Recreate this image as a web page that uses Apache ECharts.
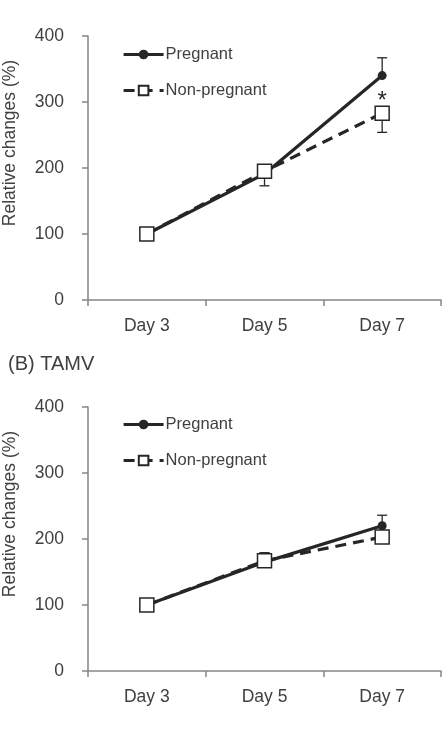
<!DOCTYPE html>
<html>
<head>
<meta charset="utf-8">
<script src="https://cdn.jsdelivr.net/npm/echarts@6/dist/echarts.min.js"></script>
<style>
  html, body { margin: 0; padding: 0; background: #fff; }
  #chart { width: 445px; height: 738px; }
</style>
</head>
<body>
<div id="chart"></div>
<script>
var days = ['Day 3', 'Day 5', 'Day 7'];
var seriesNames = ['Pregnant', 'Non-pregnant'];

// (A) values
var pregA = [100, 191, 340];
var nonPregA = [100, 195, 283];
var pregAUp = [0, 0, 27];        // upper error only
var nonPregADown = [0, 22, 29];  // lower error only

// (B) TAMV values
var pregB = [100, 165, 220];
var nonPregB = [100, 167, 203];
var pregBUp = [0, 14, 16];
var nonPregBUp = [0, 12, 0];

var font = 'Arial, "Liberation Sans", sans-serif';
var textColor = '#404040';
var axisColor = '#868686';
var lineColor = '#262626';

function errData(vals, errs, sign) {
    var out = [];
    for (var i = 0; i < vals.length; i++) {
        if (errs[i] > 0) out.push([i, vals[i], vals[i] + sign * errs[i]]);
    }
    return out;
}

function errSeries(idx, data) {
    return {
        type: 'custom',
        xAxisIndex: idx,
        yAxisIndex: idx,
        z: 1,
        silent: true,
        data: data,
        renderItem: function (params, api) {
            var p0 = api.coord([api.value(0), api.value(1)]);
            var p1 = api.coord([api.value(0), api.value(2)]);
            var style = { stroke: lineColor, lineWidth: 1.3 };
            return {
                type: 'group',
                children: [
                    { type: 'line', shape: { x1: p0[0], y1: p0[1], x2: p1[0], y2: p1[1] }, style: style },
                    { type: 'line', shape: { x1: p1[0] - 5, y1: p1[1], x2: p1[0] + 5, y2: p1[1] }, style: style }
                ]
            };
        }
    };
}

function lineSeries(idx, name, data, np, star) {
    var d = data.slice();
    if (star) {
        d[2] = {
            value: data[2],
            label: { show: true, position: 'top', distance: 0, offset: [0, 8], formatter: '*', fontSize: 24, fontFamily: font, color: lineColor }
        };
    }
    return {
        name: name,
        type: 'line',
        xAxisIndex: idx,
        yAxisIndex: idx,
        data: d,
        z: np ? 4 : 3,
        symbol: np ? 'rect' : 'circle',
        symbolSize: np ? 14 : 9,
        showAllSymbol: true,
        itemStyle: np ? { color: '#fff', borderColor: lineColor, borderWidth: 1.5 } : { color: lineColor },
        lineStyle: { color: lineColor, width: 3.2, type: np ? [11, 7] : 'solid' },
        emphasis: { disabled: true }
    };
}

function xAxisFor(idx) {
    return {
        type: 'category',
        gridIndex: idx,
        data: days,
        boundaryGap: true,
        axisLine: { lineStyle: { color: axisColor, width: 1.5 } },
        axisTick: { show: true, length: 6, lineStyle: { color: axisColor, width: 1.5 } },
        axisLabel: { fontSize: 17.5, fontFamily: font, color: textColor, margin: 17 }
    };
}

function yAxisFor(idx) {
    return {
        type: 'value',
        gridIndex: idx,
        min: 0,
        max: 400,
        interval: 100,
        name: 'Relative changes (%)',
        nameLocation: 'middle',
        nameGap: 69,
        nameTextStyle: { fontSize: 17.5, fontFamily: font, color: textColor, padding: [0, 0, 0, 50] },
        axisLine: { show: true, lineStyle: { color: axisColor, width: 1.5 } },
        axisTick: { show: true, length: 6, lineStyle: { color: axisColor, width: 1.5 } },
        axisLabel: { fontSize: 17.5, fontFamily: font, color: textColor, margin: 24 },
        splitLine: { show: false }
    };
}

function legendFor(top) {
    return {
        data: seriesNames,
        orient: 'vertical',
        left: 122,
        top: top,
        padding: 0,
        itemWidth: 40,
        itemHeight: 12,
        itemGap: 19,
        selectedMode: false,
        lineStyle: { width: 3.2 },
        textStyle: { fontSize: 16.5, fontFamily: font, color: textColor, padding: [0, 0, 0, -3] }
    };
}

var chart = echarts.init(document.getElementById('chart'));
chart.setOption({
    animation: false,
    backgroundColor: '#fff',
    title: {
        text: '(B) TAMV',
        left: 3,
        top: 349,
        textStyle: { fontSize: 20, fontWeight: 'normal', fontFamily: font, color: textColor }
    },
    legend: [legendFor(46), legendFor(416)],
    grid: [
        { left: 88, right: 4, top: 36, height: 264, outerBoundsMode: 'none' },
        { left: 88, right: 4, top: 407, height: 264, outerBoundsMode: 'none' }
    ],
    xAxis: [xAxisFor(0), xAxisFor(1)],
    yAxis: [yAxisFor(0), yAxisFor(1)],
    series: [
        errSeries(0, errData(pregA, pregAUp, 1).concat(errData(nonPregA, nonPregADown, -1))),
        lineSeries(0, 'Pregnant', pregA, false, false),
        lineSeries(0, 'Non-pregnant', nonPregA, true, true),
        errSeries(1, errData(pregB, pregBUp, 1).concat(errData(nonPregB, nonPregBUp, 1))),
        lineSeries(1, 'Pregnant', pregB, false, false),
        lineSeries(1, 'Non-pregnant', nonPregB, true, false)
    ]
});
</script>
</body>
</html>
